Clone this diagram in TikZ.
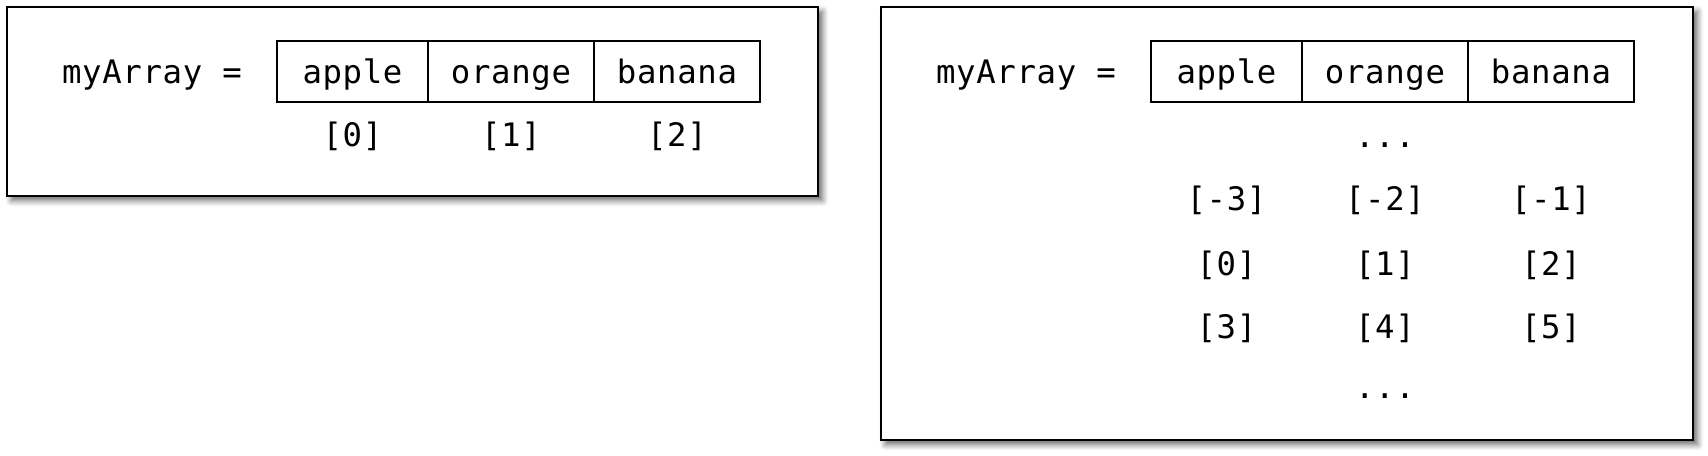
\documentclass[tikz,border=0pt]{standalone}
\usepackage{fontspec}
\newfontfamily\codefont[LetterSpace=2]{DejaVu Sans Mono}
\usetikzlibrary{positioning, shadows.blur}

\tikzset{
  panel/.style={draw=black, line width=0.8pt, fill=white,
    blur shadow={shadow xshift=0.45mm, shadow yshift=-0.45mm, shadow blur steps=6, shadow opacity=60}},
  code/.style={font=\codefont\fontsize{9.2pt}{11pt}\selectfont, inner sep=0pt,
    text height=0.3cm, text depth=0.06cm},
  cell/.style={code, draw=black, line width=0.55pt, outer sep=0pt, minimum height=0.61cm},
}

\begin{document}
\begin{tikzpicture}
  \useasboundingbox (0, 0) rectangle (17.08, -4.56);

  % two framed panels
  \path[panel] (0.07, -0.07) rectangle (8.18, -1.96);
  \path[panel] (8.81, -0.07) rectangle (16.93, -4.40);

  % left panel: array and positive indices
  \node[code] (lname) at (1.52, -0.712) {myArray =};
  \node[cell, minimum width=1.51cm] (la) at (3.525, -0.712) {apple};
  \node[cell, minimum width=1.66cm, right=0pt of la] (lo) {orange};
  \node[cell, minimum width=1.66cm, right=0pt of lo] (lb) {banana};
  \foreach \c/\i in {a/0, o/1, b/2}
    \node[code] (lidx\c) at (l\c |- 0,-1.346) {[\i]};

  % right panel: same array, indices repeat both ways
  \node[code] (rname) at (10.26, -0.712) {myArray =};
  \node[cell, minimum width=1.51cm] (ra) at (12.265, -0.712) {apple};
  \node[cell, minimum width=1.66cm, right=0pt of ra] (ro) {orange};
  \node[cell, minimum width=1.66cm, right=0pt of ro] (rb) {banana};

  \node[code] (rdotsup) at (ro |- 0,-1.35) {...};
  \foreach \c/\m/\z/\p in {a/-3/0/3, o/-2/1/4, b/-1/2/5} {
    \node[code] (rm\c) at (r\c |- 0,-1.98) {[\m]};
    \node[code] (rz\c) at (r\c |- 0,-2.636) {[\z]};
    \node[code] (rp\c) at (r\c |- 0,-3.268) {[\p]};
  }
  \node[code] (rdotsdown) at (ro |- 0,-3.86) {...};
\end{tikzpicture}
\end{document}
